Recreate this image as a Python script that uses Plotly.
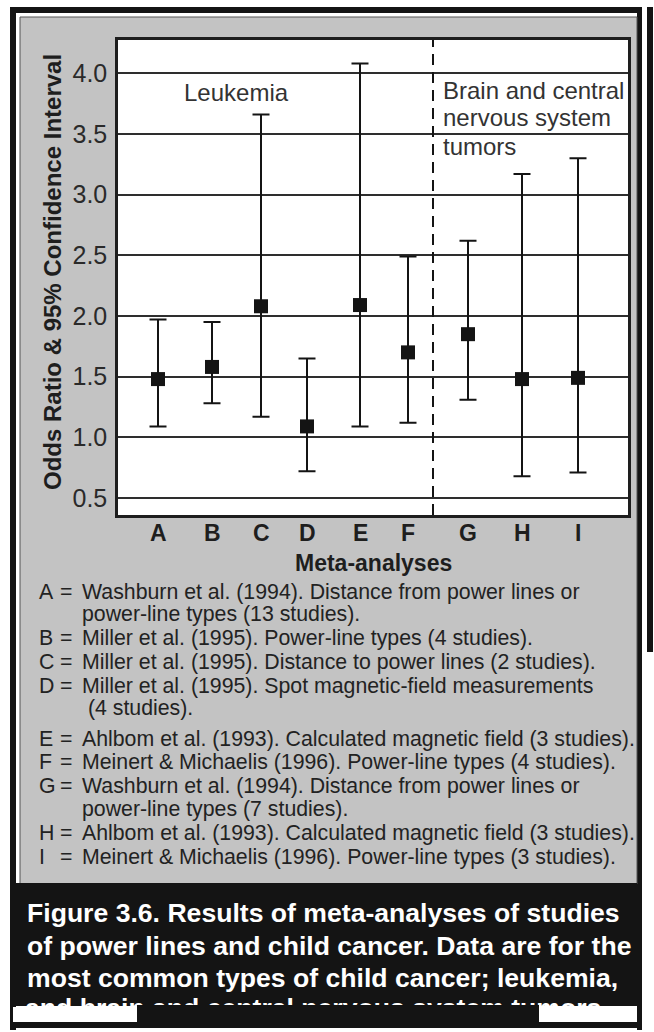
import plotly.graph_objects as go

# ---- data -------------------------------------------------------------
categories = ["A", "B", "C", "D", "E", "F", "G", "H", "I"]
odds_ratio = [1.48, 1.58, 2.08, 1.09, 2.09, 1.70, 1.85, 1.48, 1.49]
ci_upper = [1.97, 1.95, 3.66, 1.65, 4.08, 2.49, 2.62, 3.17, 3.30]
ci_lower = [1.09, 1.28, 1.17, 0.72, 1.09, 1.12, 1.31, 0.68, 0.71]
y_ticks = [0.5, 1.0, 1.5, 2.0, 2.5, 3.0, 3.5, 4.0]

legend_rows = [
    ("A", "=", "Washburn et al. (1994). Distance from power lines or"),
    ("", "", "power-line types (13 studies)."),
    ("B", "=", "Miller et al. (1995). Power-line types (4 studies)."),
    ("C", "=", "Miller et al. (1995). Distance to power lines (2 studies)."),
    ("D", "=", "Miller et al. (1995). Spot magnetic-field measurements"),
    ("", "", " (4 studies)."),
    ("E", "=", "Ahlbom et al. (1993). Calculated magnetic field (3 studies)."),
    ("F", "=", "Meinert & Michaelis (1996). Power-line types (4 studies)."),
    ("G", "=", "Washburn et al. (1994). Distance from power lines or"),
    ("", "", "power-line types (7 studies)."),
    ("H", "=", "Ahlbom et al. (1993). Calculated magnetic field (3 studies)."),
    ("I", "=", "Meinert & Michaelis (1996). Power-line types (3 studies)."),
]
caption_lines = [
    "Figure 3.6. Results of meta-analyses of studies",
    "of power lines and child cancer. Data are for the",
    "most common types of child cancer; leukemia,",
    "and brain and central nervous system tumors.",
]
cns_label = ["Brain and central", "nervous system", "tumors"]

# ---- page geometry (pixels) -------------------------------------------
W, H = 654, 1032
FONT = "Liberation Sans, Arial, Helvetica, sans-serif"
PLOT_L, PLOT_R, PLOT_T, PLOT_B = 118, 628, 40, 515
X_SPAN = PLOT_R - PLOT_L
slot_x = [40, 94, 143, 189, 242, 290, 350, 404, 460]   # column centres on the x axis
divider_x = 315
Y_RANGE = [0.36, 4.274]


def px(x):
    return x / W


def py(y):
    return 1 - y / H


def rect(x0, y0, x1, y1, color, layer="below", outline=None):
    return dict(type="rect", xref="paper", yref="paper",
                x0=px(x0), x1=px(x1), y0=py(y1), y1=py(y0),
                fillcolor=color, layer=layer,
                line=dict(width=1 if outline else 0, color=outline or color))


def label(x, y, text, size, color, xanchor="left", bold=False, angle=0):
    return dict(x=px(x), y=py(y), xref="paper", yref="paper",
                xanchor=xanchor, yanchor="middle", showarrow=False,
                textangle=angle, text=f"<b>{text}</b>" if bold else text,
                font=dict(family=FONT, size=size, color=color))


INK = "#141414"
GRAY = "#c3c3c3"

fig = go.Figure()

# confidence intervals with the point estimate
fig.add_trace(go.Scatter(
    x=slot_x, y=odds_ratio, mode="markers",
    marker=dict(symbol="square", size=14, color=INK, line=dict(width=0)),
    error_y=dict(type="data", symmetric=False,
                 array=[u - m for u, m in zip(ci_upper, odds_ratio)],
                 arrayminus=[m - l for m, l in zip(odds_ratio, ci_lower)],
                 color=INK, thickness=2, width=8.5),
    hoverinfo="skip", showlegend=False,
))

# last caption line sits on a full-page pixel layer so the frame can clip it
fig.add_trace(go.Scatter(
    x=[25], y=[1010], mode="text", text=[caption_lines[3]],
    textposition="middle right",
    textfont=dict(family=FONT, size=26.6, color="white", weight="bold"),
    xaxis="x2", yaxis="y2", hoverinfo="skip", showlegend=False,
))

shapes = [
    # outer frame
    rect(10, 7, 642, 13, INK),
    rect(10, 7, 16, 1030, INK),
    rect(637, 7, 642, 1030, INK),
    rect(647, 7, 653, 652, INK),
    # grey panel with thin outline
    rect(20, 17, 637, 884, GRAY, outline="#555555"),
    # caption box
    rect(16, 883, 637, 1006, INK),
    # plot area
    rect(PLOT_L, PLOT_T, PLOT_R, PLOT_B, "white"),
    # torn bottom edge over the last caption line
    rect(137, 1005, 539, 1022, INK, layer="above"),
    rect(13, 1007, 137, 1022, "white", layer="above"),
    rect(539, 1007, 637, 1022, "white", layer="above"),
    rect(16, 1022, 637, 1028, INK, layer="above"),
    # leukemia / CNS divider
    dict(type="line", xref="x", yref="paper", x0=divider_x, x1=divider_x,
         y0=py(PLOT_B), y1=py(PLOT_T), layer="above",
         line=dict(color=INK, width=2, dash="11px,7px")),
]

ann = []
# group labels inside the plot
ann.append(label(182, 92, "Leukemia", 24, "#333333"))
for line, yy in zip(cns_label, [90, 118, 146]):
    ann.append(label(441, yy, line, 24, "#333333"))

# axis titles
ann.append(label(52, 272, "Odds Ratio & 95% Confidence Interval", 24,
                 "#1e1e1e", xanchor="center", bold=True, angle=-90))
ann.append(label(373, 563, "Meta-analyses", 23, "#1e1e1e",
                 xanchor="center", bold=True))

# category letters under the plot
for c, xs in zip(categories, slot_x):
    ann.append(dict(x=xs, y=py(533), xref="x", yref="paper",
                    xanchor="center", yanchor="middle", showarrow=False,
                    text=f"<b>{c}</b>",
                    font=dict(family=FONT, size=23, color="#1e1e1e")))

# key to the meta-analyses
row_y = [592, 614, 638, 662, 686, 708, 739, 762, 786, 809, 833, 857]
for (letter, eq, desc), yy in zip(legend_rows, row_y):
    if letter:
        ann.append(label(37, yy, letter, 21.3, "#222222"))
        ann.append(label(58, yy, eq, 21.3, "#222222"))
    ann.append(label(80, yy, desc, 21.3, "#222222"))

# caption (first three lines)
for line, yy in zip(caption_lines[:3], [913, 946, 978]):
    ann.append(label(25, yy, line, 26.6, "white", bold=True))

fig.update_layout(
    width=W, height=H, autosize=False,
    margin=dict(l=0, r=0, t=0, b=0),
    paper_bgcolor="white", plot_bgcolor="rgba(0,0,0,0)",
    showlegend=False,
    shapes=shapes, annotations=ann,
    xaxis=dict(domain=[px(PLOT_L), px(PLOT_R)], range=[0, X_SPAN],
               tickmode="array", tickvals=slot_x, showticklabels=False,
               showgrid=False, zeroline=False, ticks="",
               showline=True, mirror=True, linecolor="#1e1e1e", linewidth=2.5),
    yaxis=dict(domain=[py(PLOT_B), py(PLOT_T)], range=Y_RANGE,
               tickmode="array", tickvals=y_ticks,
               ticktext=[f"{v:.1f}" for v in y_ticks],
               tickfont=dict(family=FONT, size=25, color="#2a2a2a"),
               showgrid=True, gridcolor="#2e2e2e", gridwidth=1.5,
               zeroline=False, ticks="", ticklabelstandoff=3,
               showline=True, mirror=True, linecolor="#1e1e1e", linewidth=2.5),
    xaxis2=dict(domain=[0, 1], range=[0, W], visible=False, anchor="y2"),
    yaxis2=dict(domain=[0, 1], range=[H, 0], visible=False, anchor="x2"),
)

fig.write_html("out.html")
